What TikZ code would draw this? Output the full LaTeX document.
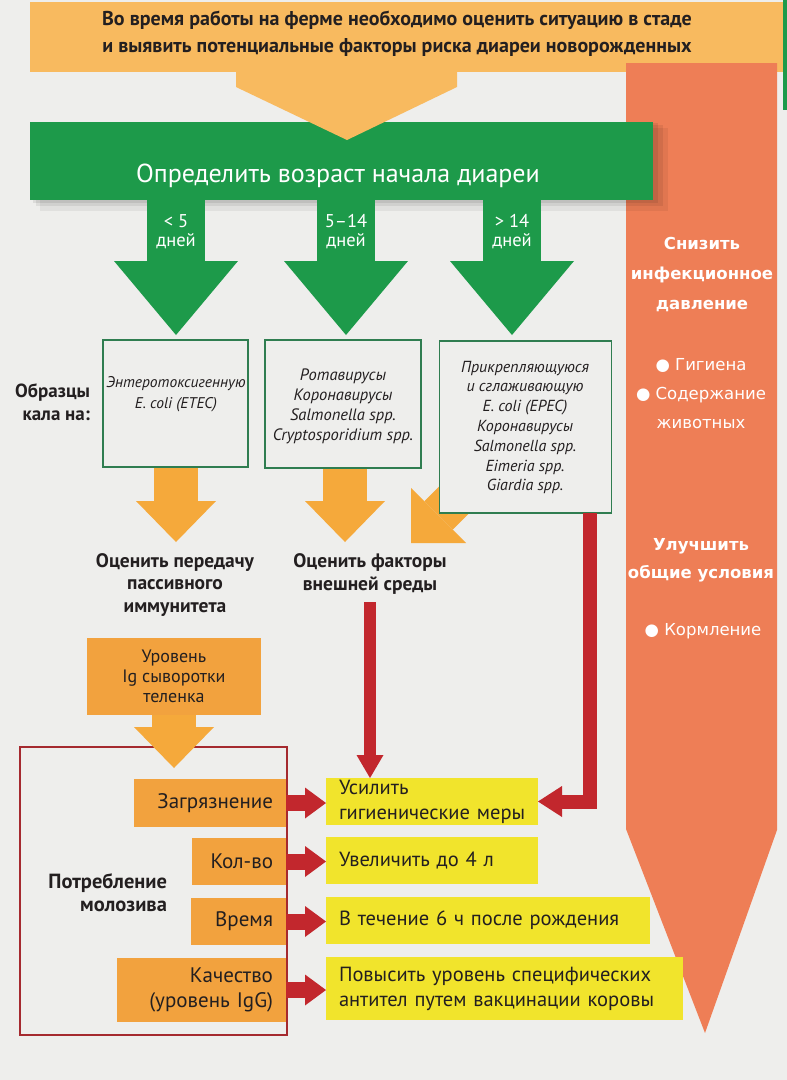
\documentclass[tikz,border=0pt]{standalone}
\usepackage{fontspec}
\setmainfont{PT Sans}
\newfontfamily\vfont{DejaVu Sans}
\usetikzlibrary{arrows.meta}
\definecolor{bgc}{HTML}{EEEEEC}
\definecolor{banner}{HTML}{F8BA5F}
\definecolor{grn}{HTML}{1D9A4A}
\definecolor{boxline}{HTML}{2F7D50}
\definecolor{orng}{HTML}{F5A93B}
\definecolor{orbox}{HTML}{F2A23E}
\definecolor{ylw}{HTML}{F1E42C}
\definecolor{rd}{HTML}{C2272D}
\definecolor{rdbox}{HTML}{A52A2F}
\definecolor{salmon}{HTML}{EE7E56}
\definecolor{txt}{HTML}{231F20}
\newcommand\setfs[2]{\fontsize{#1}{#2}\selectfont}
\begin{document}
\begin{tikzpicture}[x=1pt,y=-1pt,
 every node/.style={inner sep=0pt,outer sep=0pt,text=txt},
 gbox/.style={draw=boxline,line width=1.5pt,fill=bgc},
 boxtxt/.style={align=center,font=\itshape\setfs{16}{19.8}},
 obox/.style={fill=orbox,inner xsep=13pt,align=right,font=\setfs{21}{25.5}},
 ybox/.style={fill=ylw,inner xsep=0pt,align=left,font=\setfs{20.5}{25},execute at begin node={\leftskip=13pt\relax}},
 garrow/.style={draw=grn,line width=58pt,-{Triangle[length=74pt,width=124pt,line width=0pt]}},
 oarrow/.style={draw=orng,line width=44pt,-{Triangle[length=41pt,width=80pt,line width=0pt]}},
 rarrow/.style={draw=rd,line width=16pt,-{Triangle[length=21pt,width=31pt,line width=0pt]}},
 glabel/.style={text=white,align=center,font=\setfs{18.5}{19}},
 boldtxt/.style={font=\bfseries\setfs{19.5}{22.5},align=center},
 sidehead/.style={text=white,align=center,font=\vfont\bfseries\setfs{16.5}{30}},
 sidebul/.style={text=white,align=center,font=\vfont\setfs{16.5}{29}},
]
\useasboundingbox (0,0) rectangle (787,1080);
\fill[bgc] (0,0) rectangle (787,1080);

% top banner
\fill[banner] (30,2) rectangle (783,72);
\fill[grn] (783,0) rectangle (787,110);
\node[font=\bfseries\setfs{20}{27},align=center] (intro) at (397,34)
 {Во время работы на ферме необходимо оценить ситуацию в стаде\\и выявить потенциальные факторы риска диареи новорожденных};

% right big arrow
\fill[salmon] (626,63) -- (777,63) -- (777,830) -- (705,1033) -- (626,829) -- cycle;

% green bar with shadow
\fill[black,opacity=0.06] (40,128) rectangle (668,211);
\fill[black,opacity=0.07] (36,125) rectangle (663,206);
\fill[black,opacity=0.08] (33,123) rectangle (658,203);
\node[fill=grn,minimum width=623pt,minimum height=78pt] (gbar) at (341.5,161) {};
\fill[banner] (236,60) -- (457,60) -- (457,87) -- (347,140) -- (236,87) -- cycle;
\node[text=white,font=\setfs{26}{30}] (gtitle) at (338,176) {Определить возраст начала диареи};

% green arrows
\coordinate (g1) at (176,335);
\coordinate (g2) at (346,335);
\coordinate (g3) at (512,335);
\draw[garrow] (gbar.south -| g1) -- (g1);
\draw[garrow] (gbar.south -| g2) -- (g2);
\draw[garrow] (gbar.south -| g3) -- (g3);
\node[glabel] (l1) at (176,232) {< 5\\дней};
\node[glabel] (l2) at (346,232) {5–14\\дней};
\node[glabel] (l3) at (512,232) {> 14\\дней};

% orange arrows below the boxes
\coordinate (oa) at (176,542);
\coordinate (ob) at (345,542);
\coordinate (ods) at (472,482);
\coordinate (odt) at (411,543);
\draw[oarrow] (oa |- 0,467) -- (oa);
\draw[oarrow] (ob |- 0,467) -- (ob);
\draw[draw=orng,line width=40pt,-{Triangle[length=39pt,width=78pt,line width=0pt]}] (ods) -- (odt);

% sample boxes
\node[gbox,minimum width=145pt,minimum height=127pt] (b1) at (175.5,403.5) {};
\node[gbox,minimum width=156pt,minimum height=128pt] (b2) at (343,404) {};
\node[gbox,minimum width=172pt,minimum height=172pt] (b3) at (525.5,427) {};
\node[boxtxt,font=\itshape\setfs{15.5}{21}] (t1) at (176,394) {Энтеротоксигенную\\E. coli (ETEC)};
\node[boxtxt,font=\itshape\setfs{16.5}{20}] (t2) at (343,406) {Ротавирусы\\Коронавирусы\\Salmonella spp.\\Cryptosporidium spp.};
\node[boxtxt] (t3) at (525,427.5) {Прикрепляющуюся\\и сглаживающую\\E. coli (EPEC)\\Коронавирусы\\Salmonella spp.\\Eimeria spp.\\Giardia spp.};
\node[boldtxt,font=\bfseries\setfs{19}{23},align=right,anchor=east] (samples) at (90,402) {Образцы\\кала на:};

% evaluation texts
\node[boldtxt] (p1) at (175,585) {Оценить передачу\\пассивного\\иммунитета};
\node[boldtxt] (p2) at (370,574) {Оценить факторы\\внешней среды};

% Ig box and colostrum frame
\node[fill=orbox,minimum width=174pt,minimum height=77pt,align=center,font=\setfs{18}{20}] (ig) at (174,676.5) {Уровень\\Ig сыворотки\\теленка};
\node[draw=rdbox,line width=1.6pt,minimum width=267pt,minimum height=288pt] (rbox) at (153.5,891) {};
\coordinate (oi) at (174,768);
\draw[oarrow] (ig.south) -- (oi);
\node[font=\bfseries\setfs{20.5}{23},align=right,anchor=east] (colo) at (167,893) {Потребление\\молозива};

% factor boxes
\node[obox,text width=126pt,minimum height=48pt] (zag) at (210,803) {Загрязнение};
\node[obox,text width=68pt,minimum height=47pt] (kol) at (239,861.5) {Кол-во};
\node[obox,text width=69pt,minimum height=47pt] (vre) at (238.5,921.5) {Время};
\node[obox,text width=143pt,minimum height=64pt] (kach) at (201.5,990) {Качество\\(уровень IgG)};

% measure boxes
\node[ybox,text width=212pt,minimum height=47pt] (y1) at (432,801.5) {Усилить\\гигиенические меры};
\node[ybox,text width=212pt,minimum height=47pt] (y2) at (432,860.5) {Увеличить до 4 л};
\node[ybox,text width=324pt,minimum height=47pt] (y3) at (488,920.5) {В течение 6 ч после рождения};
\node[ybox,text width=357pt,minimum height=63pt] (y4) at (504.5,988.5) {Повысить уровень специфических\\антител путем вакцинации коровы};

% red arrows
\draw[rarrow] (zag.east) -- (zag.east -| y1.west);
\draw[rarrow] (kol.east) -- (kol.east -| y2.west);
\draw[rarrow] (vre.east) -- (vre.east -| y3.west);
\draw[rarrow] (kach.east) -- (kach.east -| y4.west);
\draw[rarrow,line width=12pt,-{Triangle[length=23pt,width=27pt,line width=0pt]},shorten <=8pt] (p2.south) -- (p2.south |- y1.north);
\coordinate (rl) at (589.5,513);
\draw[rarrow,line width=14pt,-{Triangle[length=24pt,width=31pt,line width=0pt]}] (rl) |- (y1.east);

% side column texts
\node[sidehead] (s1) at (702,275) {Снизить\\инфекционное\\давление};
\node[sidebul] (s2) at (701,394) {● Гигиена\\● Содержание\\животных};
\node[sidehead,font=\vfont\bfseries\setfs{16.5}{28}] (s3) at (701,560) {Улучшить\\общие условия};
\node[sidebul] (s4) at (703,631) {● Кормление};
\end{tikzpicture}
\end{document}
